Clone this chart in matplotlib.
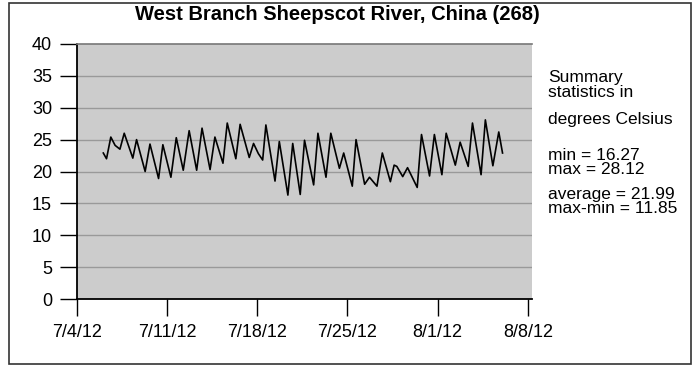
import matplotlib
matplotlib.use("Agg")
import matplotlib.pyplot as plt
import matplotlib.dates as mdates
import pandas as pd
from matplotlib.patches import Rectangle

plt.rcParams['font.family'] = ['Liberation Sans', 'DejaVu Sans']

# water temperature readings (turning points)
times = [
    "2012-07-06 01:00", "2012-07-06 07:00", "2012-07-06 15:00", "2012-07-06 23:00",
    "2012-07-07 08:00", "2012-07-07 16:00", "2012-07-08 08:00", "2012-07-08 15:00",
    "2012-07-09 07:00", "2012-07-09 16:00", "2012-07-10 08:00", "2012-07-10 16:00",
    "2012-07-11 07:00", "2012-07-11 17:00", "2012-07-12 06:00", "2012-07-12 17:00",
    "2012-07-13 07:00", "2012-07-13 17:00", "2012-07-14 08:00", "2012-07-14 17:00",
    "2012-07-15 08:00", "2012-07-15 16:00", "2012-07-16 08:00", "2012-07-16 16:00",
    "2012-07-17 09:00", "2012-07-17 17:00", "2012-07-18 02:00", "2012-07-18 10:00",
    "2012-07-18 16:00", "2012-07-19 09:00", "2012-07-19 17:00", "2012-07-20 09:00",
    "2012-07-20 18:00", "2012-07-21 08:00", "2012-07-21 16:00", "2012-07-22 09:00",
    "2012-07-22 17:00", "2012-07-23 08:00", "2012-07-23 17:00", "2012-07-24 09:00",
    "2012-07-24 17:00", "2012-07-25 09:00", "2012-07-25 16:00", "2012-07-26 08:00",
    "2012-07-26 17:00", "2012-07-27 07:00", "2012-07-27 17:00", "2012-07-28 08:00",
    "2012-07-28 15:00", "2012-07-28 20:00", "2012-07-29 07:00", "2012-07-29 16:00",
    "2012-07-30 10:00", "2012-07-30 18:00", "2012-07-31 09:00", "2012-07-31 18:00",
    "2012-08-01 08:00", "2012-08-01 16:00", "2012-08-02 09:00", "2012-08-02 18:00",
    "2012-08-03 09:00", "2012-08-03 17:00", "2012-08-04 09:00", "2012-08-04 17:00",
    "2012-08-05 07:00", "2012-08-05 18:00", "2012-08-06 01:00",
]
temps = [
    22.9, 22.0, 25.4, 24.1,
    23.5, 26.0, 22.1, 25.0,
    20.0, 24.3, 18.9, 24.2,
    19.1, 25.3, 20.2, 26.4,
    20.2, 26.8, 20.3, 25.4,
    21.3, 27.6, 22.0, 27.4,
    22.2, 24.4, 22.8, 21.8,
    27.3, 18.5, 24.7, 16.3,
    24.4, 16.4, 24.9, 17.9,
    26.0, 19.1, 26.0, 20.5,
    22.9, 17.7, 25.0, 18.0,
    19.1, 17.7, 22.9, 18.4,
    21.0, 20.8, 19.2, 20.6,
    17.5, 25.8, 19.3, 25.8,
    19.5, 26.0, 21.0, 24.6,
    20.8, 27.6, 19.5, 28.1,
    20.9, 26.2, 22.9,
]

tick_dates = ["2012-07-04", "2012-07-11", "2012-07-18", "2012-07-25", "2012-08-01", "2012-08-08"]
tick_labels = ["7/4/12", "7/11/12", "7/18/12", "7/25/12", "8/1/12", "8/8/12"]
y_ticks = [0, 5, 10, 15, 20, 25, 30, 35, 40]

title = "West Branch Sheepscot River, China (268)"
# summary block, grouped the way the reference spaces it
stats_blocks = ["Summary\nstatistics in", "degrees Celsius",
                "min = 16.27\nmax = 28.12", "average = 21.99\nmax-min = 11.85"]
stats_y = [85, 120, 162.5, 201.5]  # pixel rows of each block centre
stats_spacing = [0.95, 1.0, 0.9, 0.9]

fig = plt.figure(figsize=(6.98, 3.67), dpi=100)
ax = fig.add_axes([77 / 698, 1 - 299 / 367, (532 - 77) / 698, (299 - 44) / 367])
ax.set_facecolor('#cccccc')

x = mdates.date2num(pd.to_datetime(times))
ax.plot(x, temps, color='black', lw=1.2)

ticks_x = mdates.date2num(pd.to_datetime(tick_dates))
ax.set_xlim(ticks_x[0], ticks_x[-1] + 0.33)
ax.set_ylim(0, 40)
ax.set_xticks(ticks_x)
ax.set_xticklabels(tick_labels)
ax.set_yticks(y_ticks)
ax.tick_params(axis='both', direction='out', length=12, width=1, labelsize=13, pad=6)

for v in y_ticks[1:-1]:
    ax.axhline(v, color='#999999', lw=1, zorder=1)

ax.spines['left'].set_linewidth(1.3)
ax.spines['bottom'].set_linewidth(1.3)
ax.spines['top'].set_color('#777777')
ax.spines['top'].set_linewidth(1.2)
ax.spines['right'].set_visible(False)

fig.text(337 / 698, 1 - 14 / 367, title, ha='center', va='center',
         fontsize=14.5, fontweight='bold')

for block, py, ls in zip(stats_blocks, stats_y, stats_spacing):
    fig.text(548 / 698, 1 - py / 367, block, ha='left', va='center',
             fontsize=12.5, linespacing=ls)

fig.patches.append(Rectangle((9 / 698, 3 / 367), 682 / 698, 361 / 367,
                             transform=fig.transFigure, fill=False,
                             edgecolor='#333333', lw=1.2))

fig.savefig("out.png", dpi=100)
